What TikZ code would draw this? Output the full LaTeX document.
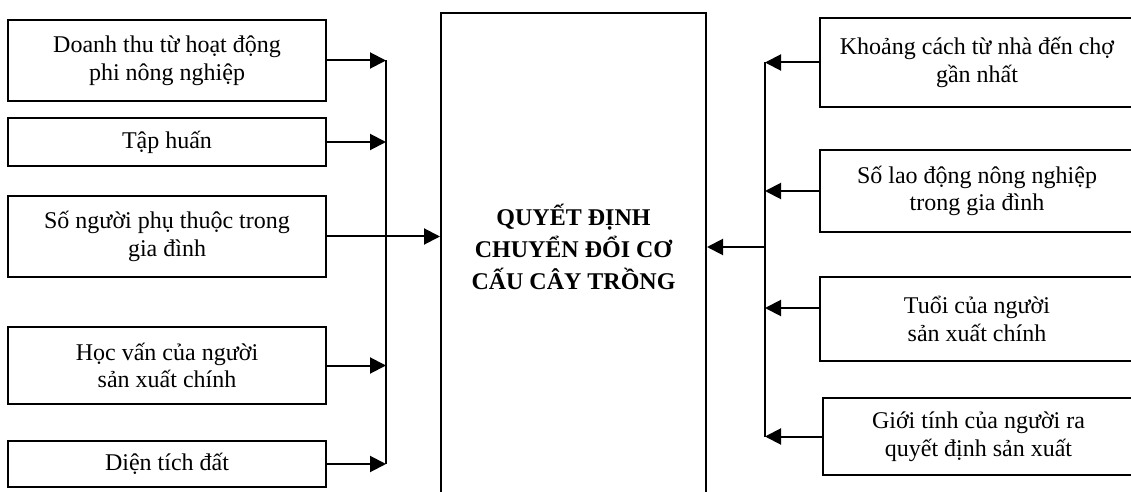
\documentclass[tikz,border=0pt]{standalone}
\usepackage{fontspec}
\setmainfont{Liberation Serif}
\usetikzlibrary{positioning,arrows.meta,calc}

\tikzset{
  factor/.style={draw, line width=0.6pt, align=center, inner sep=0pt,
    font=\fontsize{12}{13.8}\selectfont},
  decision/.style={draw, line width=1pt, inner sep=0pt,
    minimum width=132.5pt, minimum height=243.5pt},
  conn/.style={line width=1pt},
  arr/.style={line width=1pt, -{Triangle[length=8pt,width=8pt]}},
}

\begin{document}
\begin{tikzpicture}[x=0.5pt, y=-0.5pt]
  \useasboundingbox (0,0) rectangle (1131,492);
  % centre box
  \node[decision] (dec) at (573.5,256.5) {};
  \node[align=center, inner sep=0pt, font=\bfseries\fontsize{12}{16}\selectfont] (dectext) at (573.5,247)
    {QUYẾT ĐỊNH\\CHUYỂN ĐỔI CƠ\\CẤU CÂY TRỒNG};
  % left factors
  \node[factor, minimum width=159pt, minimum height=40.5pt] (l1) at (167,60.5) {Doanh thu từ hoạt động\\phi nông nghiệp};
  \node[factor, minimum width=159pt, minimum height=24pt] (l2) at (167,142) {Tập huấn};
  \node[factor, minimum width=159pt, minimum height=40.5pt] (l3) at (167,236.5) {Số người phụ thuộc trong\\gia đình};
  \node[factor, minimum width=159pt, minimum height=38.5pt] (l4) at (167,365.5) {Học vấn của người\\sản xuất chính};
  \node[factor, minimum width=159pt, minimum height=23pt] (l5) at (167,464) {Diện tích đất};
  % right factors
  \node[factor, minimum width=157pt, minimum height=44.5pt] (r1) at (977,62.5) {Khoảng cách từ nhà đến chợ\\gần nhất};
  \node[factor, minimum width=157pt, minimum height=41pt] (r2) at (977,191) {Số lao động nông nghiệp\\trong gia đình};
  \node[factor, minimum width=157pt, minimum height=42pt] (r3) at (977,319) {Tuổi của người\\sản xuất chính};
  \node[factor, minimum width=155.5pt, minimum height=38.5pt] (r4) at (978.5,436.5) {Giới tính của người ra\\quyết định sản xuất};
  % buses
  \coordinate (lbus) at (386,0);
  \coordinate (rbus) at (765,0);
  \coordinate (rjoin) at (765,247);
  % left arrows
  \foreach \n in {l1,l2,l4,l5}
    \draw[arr] (\n.east) -- (\n.east -| lbus);
  \draw[conn] (l1.east -| lbus) -- (l5.east -| lbus);
  \draw[arr] (l3.east) -- (l3.east -| dec.west);
  % right arrows
  \foreach \n in {r1,r2,r4}
    \draw[arr] (\n.west) -- (\n.west -| rbus);
  \draw[arr] ([yshift=5.5pt]r3.west) -- ([yshift=5.5pt]r3.west -| rbus);
  \draw[conn] (r1.west -| rbus) -- (r4.west -| rbus);
  \draw[arr] (rjoin) -- (rjoin -| dec.east);
\end{tikzpicture}
\end{document}
